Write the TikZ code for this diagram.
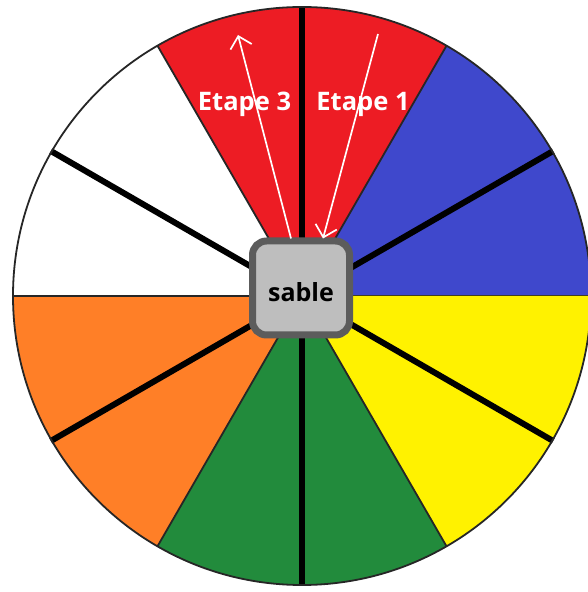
\documentclass[tikz,border=0pt]{standalone}
\usepackage{fontspec}
\setmainfont{Open Sans}
\usepackage{tikz}
\usetikzlibrary{arrows.meta,positioning,calc}

\definecolor{wred}{HTML}{ED1C24}
\definecolor{wblue}{HTML}{3F48CC}
\definecolor{wyellow}{HTML}{FFF200}
\definecolor{wgreen}{HTML}{228B3C}
\definecolor{worange}{HTML}{FF7F27}
\definecolor{wgrey}{HTML}{BEBEBE}
\definecolor{wborder}{HTML}{5C5C5C}

\begin{document}
\begin{tikzpicture}[
  x=1pt,y=1pt,
  >={Straight Barb[length=11pt,width=22pt]},
  thin line/.style={draw=black!85,line width=1.8pt},
  thick line/.style={draw=black,line width=6pt},
  sandbox/.style={draw=wborder,line width=7pt,fill=wgrey,rounded corners=14pt,minimum width=97pt,minimum height=94pt,font=\fontsize{25}{30}\selectfont\bfseries,text height=28pt,text depth=0pt},
  stage/.style={font=\fontsize{25.5}{30}\selectfont\bfseries,text=white,anchor=base},
  path/.style={draw=white,line width=1.7pt,->},
]
\useasboundingbox (0,0) rectangle (587,592);
\fill[white] (0,0) rectangle (587,592);
\coordinate (c) at (302,296);
% the wheel, two sectors of each colour
\foreach \a/\col in {0/wblue,60/wred,120/white,180/worange,240/wgreen,300/wyellow}{
  \fill[\col] (c) -- ++(\a:289) arc[start angle=\a,end angle=\a+60,radius=289] -- cycle;
  \draw[thin line] (c) -- ++(\a:289);
  \draw[thick line] (c) -- ++(\a+30:290);
}
\draw[thin line] (c) circle[radius=289];
\node[sandbox] (sable) at (301,304) {sable};
\node[stage] (etape3) at (244.5,481) {Etape 3};
\node[stage] (etape1) at (363,481) {Etape 1};
\coordinate (in1) at (378,558);
\coordinate (out3) at (238,557);
\draw[path] (in1) -- ([xshift=22pt,yshift=-1pt]sable.north);
\draw[path] ([xshift=-10pt,yshift=-1pt]sable.north) -- (out3);
\end{tikzpicture}
\end{document}
